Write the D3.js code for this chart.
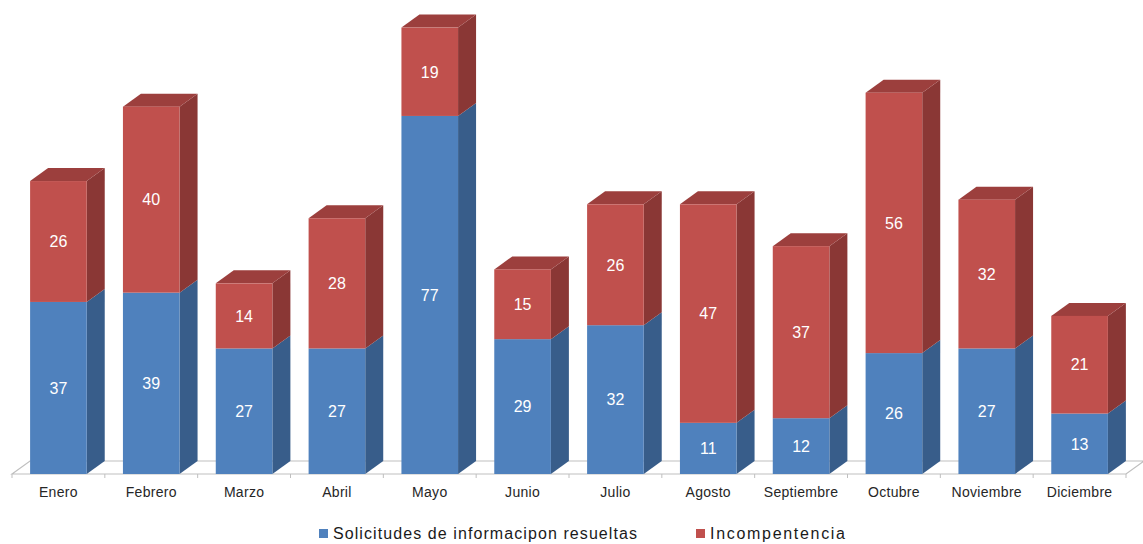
<!DOCTYPE html>
<html>
<head>
<meta charset="utf-8">
<script src="https://cdn.jsdelivr.net/npm/d3@7"></script>
<style>
  body { margin: 0; background: #fff; }
  svg { display: block; font-family: "Liberation Sans", Arial, sans-serif; }
</style>
</head>
<body>
<div id="chart"></div>
<script>
var meses = ["Enero", "Febrero", "Marzo", "Abril", "Mayo", "Junio", "Julio",
             "Agosto", "Septiembre", "Octubre", "Noviembre", "Diciembre"];
var resueltas      = [37, 39, 27, 27, 77, 29, 32, 11, 12, 26, 27, 13];
var incompetencia  = [26, 40, 14, 28, 19, 15, 26, 47, 37, 56, 32, 21];
var seriesNames = ["Solicitudes de informacipon resueltas", "Incompentencia"];

var width  = 1143;
var height = 544;

// 3d depth offset
var dx = 18;
var dy = -13;

var colors = [
  { front: "#4f81bd", side: "#385d8a", top: "#4a76ad" },
  { front: "#c0504d", side: "#8a3735", top: "#9c3f3d" }
];

var svg = d3.select("#chart")
  .append("svg")
    .attr("width",  width)
    .attr("height", height);

var x = d3.scaleBand()
  .domain(meses)
  .range([12, 1126])
  .paddingInner(0.39)
  .paddingOuter(0.195);

var y = d3.scaleLinear()
  .domain([0, 100])
  .range([474, 9]);

var step = x.step();
var x0 = 12, x1 = 1126, yb = y(0);

// floor
svg.append("path")
  .attr("d", "M" + x0 + "," + yb + "L" + (x0 + dx) + "," + (yb + dy) +
             "L" + (x1 + dx) + "," + (yb + dy) + "L" + x1 + "," + yb + "Z")
  .attr("fill", "#fff")
  .attr("stroke", "#bfbfbf")
  .attr("stroke-width", 1.2);

// tick marks on front edge
svg.selectAll("line.tick")
  .data(d3.range(meses.length + 1))
  .enter().append("line")
    .attr("class", "tick")
    .attr("x1", (i) => x0 + i * step)
    .attr("x2", (i) => x0 + i * step)
    .attr("y1", yb)
    .attr("y2", yb + 4)
    .attr("stroke", "#bfbfbf");

var stacked = d3.stack()
  .keys([0, 1])
  .value((d, k) => d[k])(meses.map((m, i) => [resueltas[i], incompetencia[i]]));

var bw = x.bandwidth();

stacked.forEach((layer, s) => {
  var g = svg.append("g");
  layer.forEach((d, i) => {
    var left = x(meses[i]);
    var right = left + bw;
    var yTop = y(d[1]);
    var yBot = y(d[0]);

    // side face
    g.append("path")
      .attr("d", "M" + right + "," + yBot + "L" + (right + dx) + "," + (yBot + dy) +
                 "L" + (right + dx) + "," + (yTop + dy) + "L" + right + "," + yTop + "Z")
      .attr("fill", colors[s].side);

    // top face (only visible at top of stack)
    if (s === stacked.length - 1) {
      g.append("path")
        .attr("d", "M" + left + "," + yTop + "L" + (left + dx) + "," + (yTop + dy) +
                   "L" + (right + dx) + "," + (yTop + dy) + "L" + right + "," + yTop + "Z")
        .attr("fill", colors[s].top);
    }

    // front face
    g.append("rect")
      .attr("x", left)
      .attr("y", yTop)
      .attr("width", bw)
      .attr("height", yBot - yTop)
      .attr("fill", colors[s].front);

    g.append("text")
      .attr("x", left + bw / 2)
      .attr("y", (yTop + yBot) / 2)
      .attr("dy", "0.36em")
      .attr("text-anchor", "middle")
      .attr("fill", "#fff")
      .attr("font-size", "16px")
      .text(d[1] - d[0]);
  });
});

// category labels
svg.selectAll("text.cat")
  .data(meses)
  .enter().append("text")
    .attr("class", "cat")
    .attr("x", (m) => x(m) + bw / 2)
    .attr("y", 497)
    .attr("text-anchor", "middle")
    .attr("fill", "#262626")
    .attr("font-size", "14px")
    .attr("letter-spacing", "0.3px")
    .text((m) => m);

// legend
var legend = [
  { name: seriesNames[0], color: colors[0].front, x: 319, len: 304 },
  { name: seriesNames[1], color: colors[1].front, x: 696, len: 135 }
];

var lg = svg.selectAll("g.legend")
  .data(legend)
  .enter().append("g")
    .attr("class", "legend")
    .attr("transform", (d) => "translate(" + d.x + ",529)");

lg.append("rect")
  .attr("width", 9)
  .attr("height", 9)
  .attr("fill", (d) => d.color);

lg.append("text")
  .attr("x", 14)
  .attr("y", 10)
  .attr("fill", "#1a1a1a")
  .attr("font-size", "16px")
  .attr("textLength", (d) => d.len)
  .attr("lengthAdjust", "spacing")
  .text((d) => d.name);
</script>
</body>
</html>
